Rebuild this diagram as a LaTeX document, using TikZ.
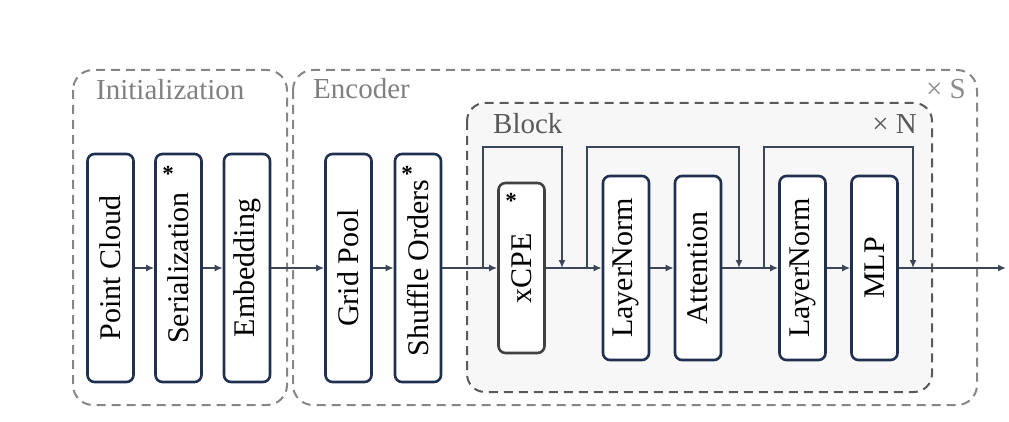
\documentclass[tikz,border=0pt]{standalone}
\usepackage{fontspec}
\setmainfont{Liberation Serif}
\usetikzlibrary{arrows.meta}
\definecolor{navy}{HTML}{203050}
\definecolor{wire}{HTML}{3C4659}
\definecolor{blockfill}{HTML}{F7F7F7}
\tikzstyle{layer}=[draw=navy,fill=white,line width=2.6pt,rounded corners=7pt,rotate=90,minimum height=46pt,inner sep=0pt,font=\fontsize{30}{36}\selectfont]
\tikzstyle{group}=[draw=gray!95,line width=2pt,dash pattern=on 9pt off 6pt,rounded corners=20pt]
\tikzstyle{grouplabel}=[anchor=base west,inner sep=0pt,font=\fontsize{29}{34}\selectfont]
\tikzstyle{star}=[anchor=base,inner sep=0pt,font=\fontsize{23}{26}\selectfont\bfseries]
\tikzstyle{arr}=[wire,line width=2.8pt,-{Latex[length=8pt,width=7pt]}]

\begin{document}
\begin{tikzpicture}[x=1pt,y=-1pt]
\useasboundingbox (0,0) rectangle (1009,422);
% groups
\draw[group] (73,70) rectangle (287,405);
\draw[group] (293,70) rectangle (977,405);
\draw[group,draw=black!65,fill=blockfill,rounded corners=18pt] (467,103) rectangle (932,392);
\node[grouplabel,text=gray] (Init) at (96,100) {Initialization};
\node[grouplabel,text=gray] (Enc) at (313,99) {Encoder};
\node[grouplabel,text=black!65] (Blk) at (493,134) {Block};
\node[grouplabel,text=gray!90,anchor=base east] (S) at (966,99) {× S};
\node[grouplabel,text=black!65,anchor=base east] (N) at (917,134) {× N};
% layers
\node[layer,minimum width=228pt] (PC) at (110.5,268) {Point Cloud};
\node[layer,minimum width=228pt] (Ser) at (178.5,268) {Serialization};
\node[layer,minimum width=228pt] (Emb) at (247,268) {Embedding};
\node[layer,minimum width=228pt] (GP) at (348.5,268) {Grid Pool};
\node[layer,minimum width=228pt] (SO) at (418,268) {Shuffle Orders};
\node[layer,minimum width=170pt,draw=black!75] (CPE) at (521.5,268) {xCPE};
\node[layer,minimum width=184pt] (LN1) at (626,268) {LayerNorm};
\node[layer,minimum width=184pt] (Att) at (698,268) {Attention};
\node[layer,minimum width=184pt] (LN2) at (802.5,268) {LayerNorm};
\node[layer,minimum width=184pt] (MLP) at (874.5,268) {MLP};
\node[star] (st1) at (168,182) {*};
\node[star] (st2) at (407,182) {*};
\node[star] (st3) at (511,209) {*};
% junctions
\coordinate (s1) at (483,268);
\coordinate (j1) at (562,268);
\coordinate (s2) at (587,268);
\coordinate (j2) at (739,268);
\coordinate (s3) at (764,268);
\coordinate (j3) at (913,268);
\coordinate (out) at (1006,268);
% connections
\draw[arr] (PC) -- (Ser);
\draw[arr] (Ser) -- (Emb);
\draw[arr] (Emb) -- (GP);
\draw[arr] (GP) -- (SO);
\draw[arr] (SO) -- (CPE);
\draw[arr] (CPE) -- (LN1);
\draw[arr] (LN1) -- (Att);
\draw[arr] (Att) -- (LN2);
\draw[arr] (LN2) -- (MLP);
\draw[arr] (MLP) -- (out);
\draw[arr] (s1) -- ++(0,-121) -| (j1);
\draw[arr] (s2) -- ++(0,-121) -| (j2);
\draw[arr] (s3) -- ++(0,-121) -| (j3);
\end{tikzpicture}
\end{document}
